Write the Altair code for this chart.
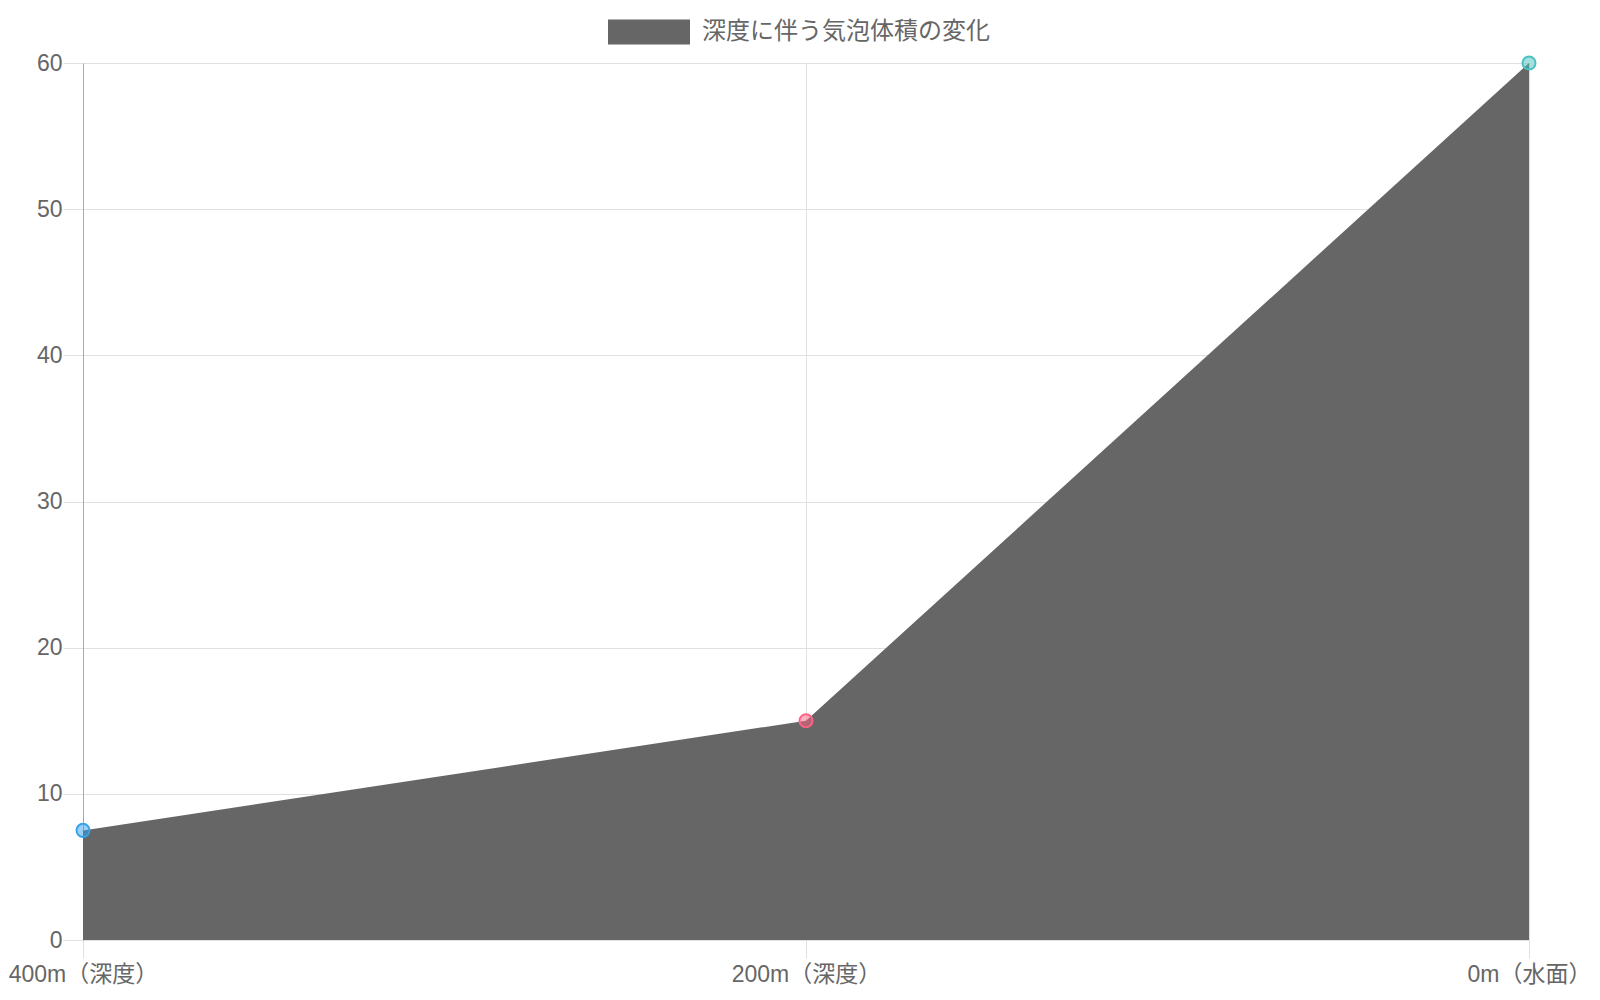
import altair as alt
import pandas as pd

# Data
labels = ["400m（深度）", "200m（深度）", "0m（水面）"]
volumes = [7.5, 15, 60]
point_colors = ["#36A2EB", "#FF6384", "#4BC0C0"]
series_name = "深度に伴う気泡体積の変化"
y_ticks = [0, 10, 20, 30, 40, 50, 60]

df = pd.DataFrame({
    "depth": labels,
    "volume": volumes,
    "pcolor": point_colors,
    "series": [series_name] * len(labels),
})

FONT = "Liberation Sans, Noto Sans CJK JP, sans-serif"

x_enc = alt.X(
    "depth:N",
    sort=labels,
    scale=alt.Scale(type="point", padding=0),
    axis=alt.Axis(
        title=None, labelAngle=0, labelFontSize=23, labelColor="#666666",
        labelFont=FONT, tickSize=18, tickColor="#e0e0e0", domain=False,
        grid=True, gridColor="#e0e0e0", labelPadding=5, labelOverlap=False,
    ),
)
y_enc = alt.Y(
    "volume:Q",
    scale=alt.Scale(domain=[0, 60], nice=False),
    axis=alt.Axis(
        title=None, values=y_ticks, labelFontSize=23, labelColor="#666666",
        labelFont=FONT, tickSize=20, tickColor="#e0e0e0", domain=True,
        domainColor="#aaaaaa", gridColor="#e0e0e0", labelPadding=1,
    ),
)

area = alt.Chart(df).mark_area(opacity=1).encode(
    x=x_enc,
    y=y_enc,
    color=alt.Color(
        "series:N",
        scale=alt.Scale(range=["#666666"]),
        legend=alt.Legend(
            title=None, orient="none", legendX=525, legendY=-72,
            symbolType="M-1,-0.305H1V0.305H-1Z", symbolSize=6724,
            symbolStrokeWidth=0, symbolOpacity=1, labelFontSize=24,
            labelColor="#666666", labelFont=FONT, labelOffset=12, padding=0,
            labelLimit=1000,
        ),
    ),
)

points = alt.Chart(df).mark_point(
    shape="circle", filled=True, size=170, strokeWidth=2, fillOpacity=0.5, opacity=1
).encode(
    x=alt.X("depth:N", sort=labels, scale=alt.Scale(type="point", padding=0)),
    y=alt.Y("volume:Q"),
    fill=alt.Fill("pcolor:N", scale=None),
    stroke=alt.Stroke("pcolor:N", scale=None),
)

chart = alt.layer(area, points).properties(
    width=1446,
    height=877,
    autosize=alt.AutoSizeParams(type="none"),
    padding={"left": 75, "top": 55, "right": 62, "bottom": 50},
).configure_view(stroke=None).configure(font=FONT)

chart.save("out.html", embed_options={"renderer": "svg", "actions": False})
